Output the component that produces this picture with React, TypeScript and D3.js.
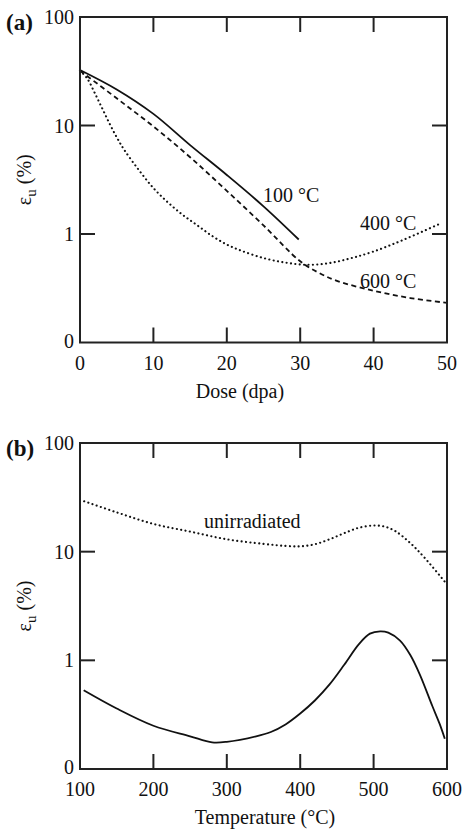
import React from "react";
import * as d3 from "d3";

// panel (a): uniform elongation vs dose
const doseTicks = [0, 10, 20, 30, 40, 50];
const dose100 = [0, 5, 10, 15, 20, 25, 29.8];
const eps100 = [32.5, 21.5, 12.8, 6.6, 3.5, 1.8, 0.89];
const dose600 = [0, 5, 10, 15, 20, 25, 30, 32.5, 35, 40, 45, 50];
const eps600 = [32, 17.8, 9.8, 5.1, 2.5, 1.2, 0.56, 0.44, 0.37, 0.3, 0.257, 0.232];
const dose400 = [0, 1, 2, 3, 4, 5, 6, 8, 10, 12, 14, 16, 18, 20, 22, 25, 28, 31, 34, 37, 40, 44, 49];
const eps400 = [32, 27, 20, 14.5, 10.5, 7.8, 6, 3.9, 2.65, 1.95, 1.5, 1.2, 0.96, 0.8, 0.7, 0.6, 0.545, 0.52, 0.54, 0.6, 0.69, 0.88, 1.24];

// panel (b): uniform elongation vs temperature
const tempTicks = [100, 200, 300, 400, 500, 600];
const tempUnirr = [100, 150, 200, 250, 300, 350, 380, 400, 420, 440, 460, 480, 500, 515, 530, 550, 570, 600];
const epsUnirr = [30, 23, 18, 15.3, 13, 11.8, 11.3, 11.2, 11.7, 13, 14.8, 16.6, 17.4, 17, 15.4, 12, 8.7, 5];
const tempIrr = [105, 150, 200, 250, 280, 300, 340, 360, 380, 400, 420, 440, 460, 480, 495, 509, 520, 536, 550, 563, 580, 590, 597];
const epsIrr = [0.53, 0.36, 0.25, 0.2, 0.176, 0.178, 0.2, 0.219, 0.257, 0.324, 0.427, 0.6, 0.91, 1.41, 1.76, 1.85, 1.8, 1.52, 1.12, 0.74, 0.38, 0.26, 0.19];

const yTickValues = [0.1, 1, 10, 100];
const yTickLabels = ["0", "1", "10", "100"];

const font = "'Liberation Serif', 'Times New Roman', serif";
const left = 80;
const right = 447;
const tick = 15;

const Panel = (props) => {
	const { top, bottom, xDomain, xTicks, letter, xTitle, titleX, series, labels } = props;
	const x = d3.scaleLinear().domain(xDomain).range([left, right]);
	const y = d3.scaleLog().domain([0.1, 100]).range([bottom, top]);
	const line = d3
		.line()
		.x((d) => x(d[0]))
		.y((d) => y(d[1]))
		.curve(d3.curveCatmullRom.alpha(0.5));

	const inner = xTicks.slice(1, -1);
	return (
		<g fontFamily={font} fill="#111">
			{series.map((s, i) => (
				<path
					key={i}
					d={line(s.xs.map((v, j) => [v, s.ys[j]]))}
					fill="none"
					stroke="#111"
					strokeWidth={s.dash === "dot" ? 2.1 : 1.8}
					strokeLinecap={s.dash === "dot" ? "round" : "butt"}
					strokeDasharray={
						s.dash === "dot" ? "0.1 4.3" : s.dash === "dash" ? "5 3.5" : null
					}
				></path>
			))}
			<rect
				x={left}
				y={top}
				width={right - left}
				height={bottom - top}
				fill="none"
				stroke="#222"
				strokeWidth={2}
			></rect>
			{inner.map((t) => (
				<g key={t}>
					<line x1={x(t)} x2={x(t)} y1={bottom} y2={bottom - tick} stroke="#222" strokeWidth={2} />
					<line x1={x(t)} x2={x(t)} y1={top} y2={top + tick} stroke="#222" strokeWidth={2} />
				</g>
			))}
			{[1, 10].map((t) => (
				<g key={t}>
					<line x1={left} x2={left + tick} y1={y(t)} y2={y(t)} stroke="#222" strokeWidth={2} />
					<line x1={right} x2={right - tick} y1={y(t)} y2={y(t)} stroke="#222" strokeWidth={2} />
				</g>
			))}
			{yTickValues.map((t, i) => (
				<text
					key={t}
					x={left - 6}
					y={t === 0.1 ? y(t) - 2 : y(t)}
					dy="0.35em"
					textAnchor="end"
					fontFamily={font}
					fontSize={20}
				>
					{yTickLabels[i]}
				</text>
			))}
			{xTicks.map((t) => (
				<text key={t} x={x(t)} y={bottom + 27} textAnchor="middle" fontFamily={font} fontSize={20}>
					{t}
				</text>
			))}
			<text x={titleX} y={bottom + 55} textAnchor="middle" fontFamily={font} fontSize={20}>
				{xTitle}
			</text>
			<text x={6} y={top + 13} fontFamily={font} fontSize={23} fontWeight="bold">
				{letter}
			</text>
			<text
				transform={`translate(31, ${(top + bottom) / 2}) rotate(-90)`}
				textAnchor="middle"
				fontFamily={font}
				fontSize={20}
			>
				<tspan>ε</tspan>
				<tspan fontSize={15} dy={5}>u</tspan>
				<tspan dy={-5}> (%)</tspan>
			</text>
			{labels.map((l, i) => (
				<text key={i} x={l.x} y={l.y} fontFamily={font} fontSize={20}>
					{l.text}
				</text>
			))}
		</g>
	);
};

const App = () => {
	return (
		<svg
			width={463}
			height={829}
			style={{ position: "absolute", left: 0, top: 0, background: "#fff" }}
		>
			<Panel
				top={17}
				bottom={342.5}
				xDomain={[0, 50]}
				xTicks={doseTicks}
				letter="(a)"
				xTitle="Dose (dpa)"
				titleX={240}
				series={[
					{ xs: dose100, ys: eps100, dash: "solid" },
					{ xs: dose600, ys: eps600, dash: "dash" },
					{ xs: dose400, ys: eps400, dash: "dot" },
				]}
				labels={[
					{ x: 263, y: 202, text: "100 °C" },
					{ x: 360, y: 230, text: "400 °C" },
					{ x: 360, y: 288, text: "600 °C" },
				]}
			/>
			<Panel
				top={443}
				bottom={769}
				xDomain={[100, 600]}
				xTicks={tempTicks}
				letter="(b)"
				xTitle="Temperature (°C)"
				titleX={265}
				series={[
					{ xs: tempUnirr, ys: epsUnirr, dash: "dot" },
					{ xs: tempIrr, ys: epsIrr, dash: "solid" },
				]}
				labels={[{ x: 204, y: 528, text: "unirradiated" }]}
			/>
		</svg>
	);
};

export default App;
